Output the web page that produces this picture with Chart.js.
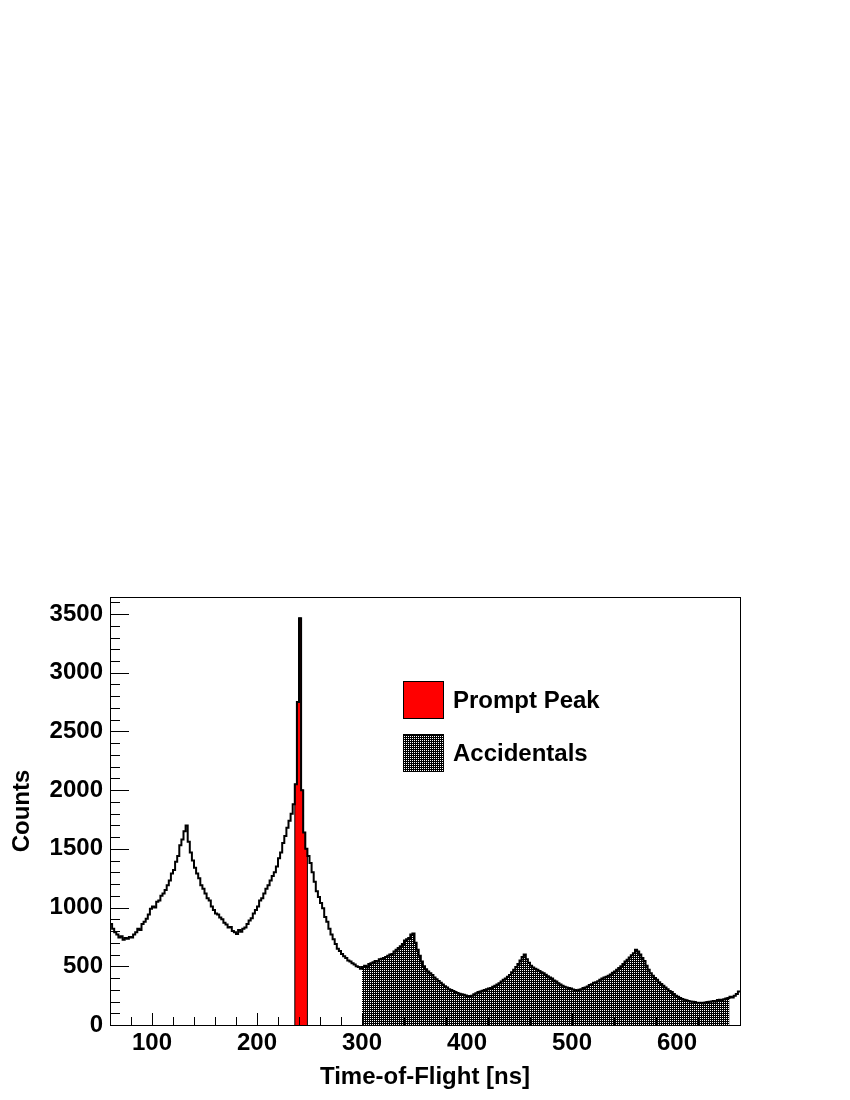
<!DOCTYPE html>
<html>
<head>
<meta charset="utf-8">
<script src="https://cdn.jsdelivr.net/npm/chart.js@4.4.0/dist/chart.umd.min.js"></script>
<style>
html, body { margin: 0; padding: 0; background: #fff; }
canvas { display: block; }
</style>
</head>
<body>
<canvas id="tofChart" width="850" height="1100"></canvas>
<script>
// ヒストグラム: 2 ns 幅のビン, 60 ns から開始
const BIN_START = 60;
const BIN_WIDTH = 2;
const counts = [
  // 60 - 98
  860, 820, 790, 770, 745, 755, 725, 740, 735, 750, 745, 770, 790, 820, 810, 860, 880, 905, 940, 990,
  // 100 - 158
  1010, 1000, 1050, 1060, 1100, 1120, 1150, 1190, 1230, 1290, 1320, 1390, 1440, 1530, 1580,
  1650, 1700, 1560, 1470, 1400, 1340, 1290, 1250, 1190, 1160, 1120, 1080, 1060, 1010, 980,
  // 160 - 234
  950, 940, 915, 900, 870, 855, 830, 835, 800, 790, 775, 810, 795, 820, 830, 860, 890, 910, 950,
  980, 1010, 1060, 1080, 1120, 1160, 1190, 1230, 1270, 1300, 1350, 1420, 1470, 1550, 1610, 1680,
  1740, 1800, 1880,
  // 236 - 248
  2050, 2750, 3465, 2000, 1640, 1500, 1440,
  // 250 - 298
  1380, 1300, 1220, 1140, 1090, 1040, 995, 920, 880, 820, 770, 730, 690, 650, 630, 605, 585,
  570, 550, 540, 525, 515, 500, 495, 480,
  // 300 - 348
  495, 505, 490, 520, 525, 535, 545, 540, 560, 565, 570, 580, 590, 600, 605, 625, 640, 655,
  670, 690, 720, 730, 740, 770, 780,
  // 350 - 398
  700, 640, 590, 540, 500, 475, 455, 440, 425, 405, 390, 375, 360, 345, 330, 320, 305, 298,
  290, 280, 272, 266, 262, 258, 252,
  // 400 - 448
  248, 245, 250, 262, 270, 280, 285, 292, 298, 305, 310, 315, 325, 335, 345, 355, 370, 385,
  395, 410, 425, 450, 470, 495, 520,
  // 450 - 498
  550, 580, 600, 560, 530, 505, 490, 480, 470, 460, 450, 440, 428, 415, 405, 395, 380, 370,
  355, 345, 335, 325, 320, 315, 310,
  // 500 - 548
  302, 298, 290, 300, 305, 315, 320, 328, 340, 348, 360, 365, 372, 385, 395, 405, 410, 420,
  430, 445, 455, 470, 485, 500, 520,
  // 550 - 598
  540, 555, 575, 595, 610, 640, 625, 600, 570, 545, 505, 470, 440, 420, 400, 385, 365, 350,
  335, 320, 305, 290, 280, 265, 250,
  // 600 - 658
  240, 230, 222, 215, 210, 205, 200, 198, 195, 190, 188, 190, 186, 192, 195, 198, 200, 205,
  200, 212, 215, 210, 220, 225, 230, 240, 235, 250, 265, 285
];

const promptWindow = [236, 248];
const accidentalWindow = [300, 650];
const xRange = [60, 660];
const yRange = [0, 3645];
const xTicks = [100, 200, 300, 400, 500, 600];
const yTicks = [0, 500, 1000, 1500, 2000, 2500, 3000, 3500];
const xMinorStep = 20, xMajorStep = 100;
const yMinorStep = 100, yMajorStep = 500;
const legendLabels = ['Prompt Peak', 'Accidentals'];
const xTitle = 'Time-of-Flight [ns]';
const yTitle = 'Counts';

const FONT = { family: "'Liberation Sans', Arial, Helvetica, sans-serif", size: 24, weight: 'bold' };

// ビン下端を x とした階段用の点列
function histPoints(lo, hi, closed) {
    const pts = [];
    if (closed) pts.push({ x: lo, y: 0 });
    counts.forEach((c, i) => {
        const edge = BIN_START + i * BIN_WIDTH;
        if (edge >= lo && edge < hi) pts.push({ x: edge, y: c });
    });
    pts.push({ x: hi, y: closed ? 0 : pts[pts.length - 1].y });
    return pts;
}

// ROOT 風の網掛けパターン
function dotPattern() {
    const c = document.createElement('canvas');
    c.width = 2; c.height = 2;
    const g = c.getContext('2d');
    g.fillStyle = '#000';
    g.fillRect(0, 0, 2, 2);
    g.fillStyle = '#fff';
    g.fillRect(0, 0, 1, 1);
    return g.createPattern(c, 'repeat');
}
const hatch = dotPattern();

// 枠・内向きの目盛・凡例
const rootFrame = {
    id: 'rootFrame',
    afterDatasetsDraw(chart) {
        const { ctx, chartArea: a, scales: { x, y } } = chart;
        ctx.save();
        ctx.strokeStyle = '#000';
        ctx.lineWidth = 1;
        ctx.strokeRect(Math.round(a.left) + 0.5, Math.round(a.top) + 0.5, Math.round(a.width), Math.round(a.height));

        ctx.beginPath();
        for (let v = xRange[0] + xMinorStep; v < xRange[1]; v += xMinorStep) {
            const px = Math.round(x.getPixelForValue(v)) + 0.5;
            const len = v % xMajorStep === 0 ? 12 : 8;
            ctx.moveTo(px, a.bottom);
            ctx.lineTo(px, a.bottom - len);
        }
        for (let v = yMinorStep; v < yRange[1]; v += yMinorStep) {
            const py = Math.round(y.getPixelForValue(v)) + 0.5;
            const len = v % yMajorStep === 0 ? 19 : 10;
            ctx.moveTo(a.left, py);
            ctx.lineTo(a.left + len, py);
        }
        ctx.stroke();

        // 凡例
        const fills = [chart.data.datasets[1].backgroundColor, chart.data.datasets[2].backgroundColor];
        ctx.font = `${FONT.weight} ${FONT.size}px ${FONT.family}`;
        ctx.textBaseline = 'middle';
        ctx.textAlign = 'left';
        legendLabels.forEach((label, i) => {
            const bx = a.left + 293, by = a.top + 84 + i * 53;
            ctx.fillStyle = fills[i];
            ctx.fillRect(bx, by, 40, 37);
            ctx.strokeRect(bx + 0.5, by + 0.5, 40, 37);
            ctx.fillStyle = '#000';
            ctx.fillText(label, bx + 50, by + 20);
        });
        ctx.restore();
    }
};

new Chart(document.getElementById('tofChart'), {
    type: 'line',
    data: {
        datasets: [{
            label: 'ToF',
            data: histPoints(xRange[0], xRange[1], false),
            borderColor: '#000',
            borderWidth: 2,
            stepped: true,
            pointRadius: 0,
            fill: false
        }, {
            label: legendLabels[0],
            data: histPoints(promptWindow[0], promptWindow[1], true),
            borderColor: '#000',
            borderWidth: 1,
            backgroundColor: '#ff0000',
            stepped: true,
            pointRadius: 0,
            fill: 'origin'
        }, {
            label: legendLabels[1],
            data: histPoints(accidentalWindow[0], accidentalWindow[1], true),
            borderWidth: 0,
            borderColor: 'rgba(0,0,0,0)',
            backgroundColor: hatch,
            stepped: true,
            pointRadius: 0,
            fill: 'origin'
        }]
    },
    options: {
        responsive: false,
        animation: false,
        parsing: false,
        layout: { padding: { top: 597, right: 110, left: 0, bottom: 0 } },
        plugins: { legend: { display: false }, tooltip: { enabled: false } },
        scales: {
            x: {
                type: 'linear',
                min: xRange[0],
                max: xRange[1],
                afterBuildTicks(scale) { scale.ticks = xTicks.map(v => ({ value: v })); },
                afterFit(scale) { scale.height = 75; },
                grid: { display: false, drawTicks: false },
                border: { display: false },
                ticks: { padding: 4, color: '#000', font: FONT, maxRotation: 0, autoSkip: false, callback: v => String(v) },
                title: { display: true, text: xTitle, color: '#000', font: FONT, padding: { top: 0, bottom: 8 } }
            },
            y: {
                min: yRange[0],
                max: yRange[1],
                afterBuildTicks(scale) { scale.ticks = yTicks.map(v => ({ value: v })); },
                afterFit(scale) { scale.width = 110; },
                grid: { display: false, drawTicks: false },
                border: { display: false },
                ticks: { padding: 7, color: '#000', font: FONT, autoSkip: false, callback: v => String(v) },
                title: { display: true, text: yTitle, color: '#000', font: FONT, padding: { top: 8, bottom: 0 } }
            }
        }
    },
    plugins: [rootFrame]
});
</script>
</body>
</html>
